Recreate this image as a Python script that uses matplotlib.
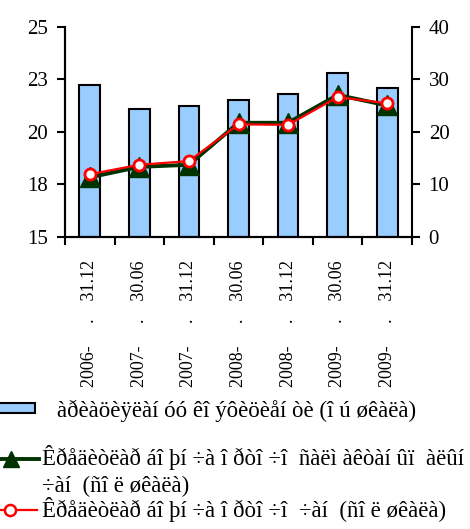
import matplotlib
matplotlib.use("Agg")
import matplotlib.pyplot as plt
from matplotlib.patches import Rectangle
from matplotlib.lines import Line2D
import numpy as np

plt.rcParams['font.family'] = ['Liberation Serif', 'DejaVu Serif']

categories = ["2006-     .    31.12", "2007-     .    30.06", "2007-     .    31.12",
              "2008-     .    30.06", "2008-     .    31.12", "2009-     .    30.06",
              "2009-     .    31.12"]
variation_coef = [22.2, 21.1, 21.2, 21.5, 21.8, 22.8, 22.1]
share_green = [11.3, 13.3, 13.7, 21.7, 21.7, 27.0, 25.0]
share_red = [11.9, 13.7, 14.4, 21.4, 21.3, 26.6, 25.4]
left_ticks = [15, 17.5, 20, 22.5, 25]
left_labels = ["15", "18", "20", "23", "25"]
right_ticks = [0, 10, 20, 30, 40]

label_bar = "àðèàöèÿëàí óó êî ýôèöèåí òè (î ú øêàëà)"
label_green_1 = "Êðåäèòëàð áî þí ÷à î ðòî ÷î  ñàëì àêòàí ûï  àëûí ã"
label_green_2 = "÷àí  (ñî ë øêàëà)"
label_red = "Êðåäèòëàð áî þí ÷à î ðòî ÷î  ÷àí  (ñî ë øêàëà)"

W, H = 470, 529
fig = plt.figure(figsize=(W / 100, H / 100), dpi=100)
ax = fig.add_axes([65 / W, 1 - 236.7 / H, (412 - 65) / W, (236.7 - 26.7) / H])
ax2 = ax.twinx()

x = np.arange(len(categories))
ax.bar(x, [v - 15 for v in variation_coef], bottom=15, width=0.42,
       color="#99CCFF", edgecolor="black", linewidth=1.5, zorder=2)
ax.set_ylim(15, 25)
ax.set_xlim(-0.5, len(categories) - 0.5)
ax.set_yticks(left_ticks)
ax.set_yticklabels(left_labels, fontsize=15)
ax.set_xticks(np.arange(len(categories) + 1) - 0.5)
ax.set_xticklabels([])
ax.set_xticks(x, minor=True)
ax.set_xticklabels(categories, minor=True, rotation=90, fontsize=13, va="top", ha="center")
ax.tick_params(axis="x", which="minor", length=0, pad=17)
ax.tick_params(axis="x", which="major", length=6, width=1.5, direction="out")
ax.tick_params(axis="y", length=6, width=1.5, direction="out", pad=6)

ax2.plot(x, share_green, color="#003300", linewidth=2.8, marker="^", markersize=14,
         markerfacecolor="#003300", markeredgecolor="#003300", zorder=3)
ax2.plot(x, share_red, color="#FF0000", linewidth=1.6, marker="o", markersize=8,
         markerfacecolor="white", markeredgecolor="#FF0000", markeredgewidth=2, zorder=4)
ax2.set_ylim(0, 40)
ax2.set_yticks(right_ticks)
ax2.set_yticklabels([str(t) for t in right_ticks], fontsize=15)
ax2.tick_params(axis="y", length=6, width=1.5, direction="out", pad=6)

for a in (ax, ax2):
    a.spines["top"].set_visible(False)
    for s in ("left", "right", "bottom"):
        a.spines[s].set_linewidth(1.5)
ax.spines["right"].set_visible(False)

# legend (manual, in figure pixel coordinates)
def fx(px):
    return px / W

def fy(py):
    return 1 - py / H

fig.patches.append(Rectangle((fx(-2), fy(413)), fx(37), 10 / H, transform=fig.transFigure,
                             facecolor="#99CCFF", edgecolor="black", linewidth=1.5))
fig.text(fx(57), fy(411), label_bar, fontsize=16.5, va="center", ha="left")

fig.lines.append(Line2D([fx(-17), fx(39)], [fy(459), fy(459)], transform=fig.transFigure,
                        color="#003300", linewidth=2.8, marker=None))
fig.lines.append(Line2D([fx(11)], [fy(459)], transform=fig.transFigure, color="#003300",
                        marker="^", markersize=11, markerfacecolor="#003300",
                        markeredgecolor="#003300", linestyle="none"))
fig.text(fx(42), fy(458), label_green_1, fontsize=16.5, va="center", ha="left")
fig.text(fx(42), fy(486), label_green_2, fontsize=16.5, va="center", ha="left")

fig.lines.append(Line2D([fx(-17), fx(37)], [fy(510), fy(510)], transform=fig.transFigure,
                        color="#FF0000", linewidth=1.6))
fig.lines.append(Line2D([fx(10)], [fy(510)], transform=fig.transFigure, color="#FF0000",
                        marker="o", markersize=8, markerfacecolor="white",
                        markeredgecolor="#FF0000", markeredgewidth=1.8, linestyle="none"))
fig.text(fx(42), fy(510), label_red, fontsize=16.5, va="center", ha="left")

fig.savefig("out.png", dpi=100)
